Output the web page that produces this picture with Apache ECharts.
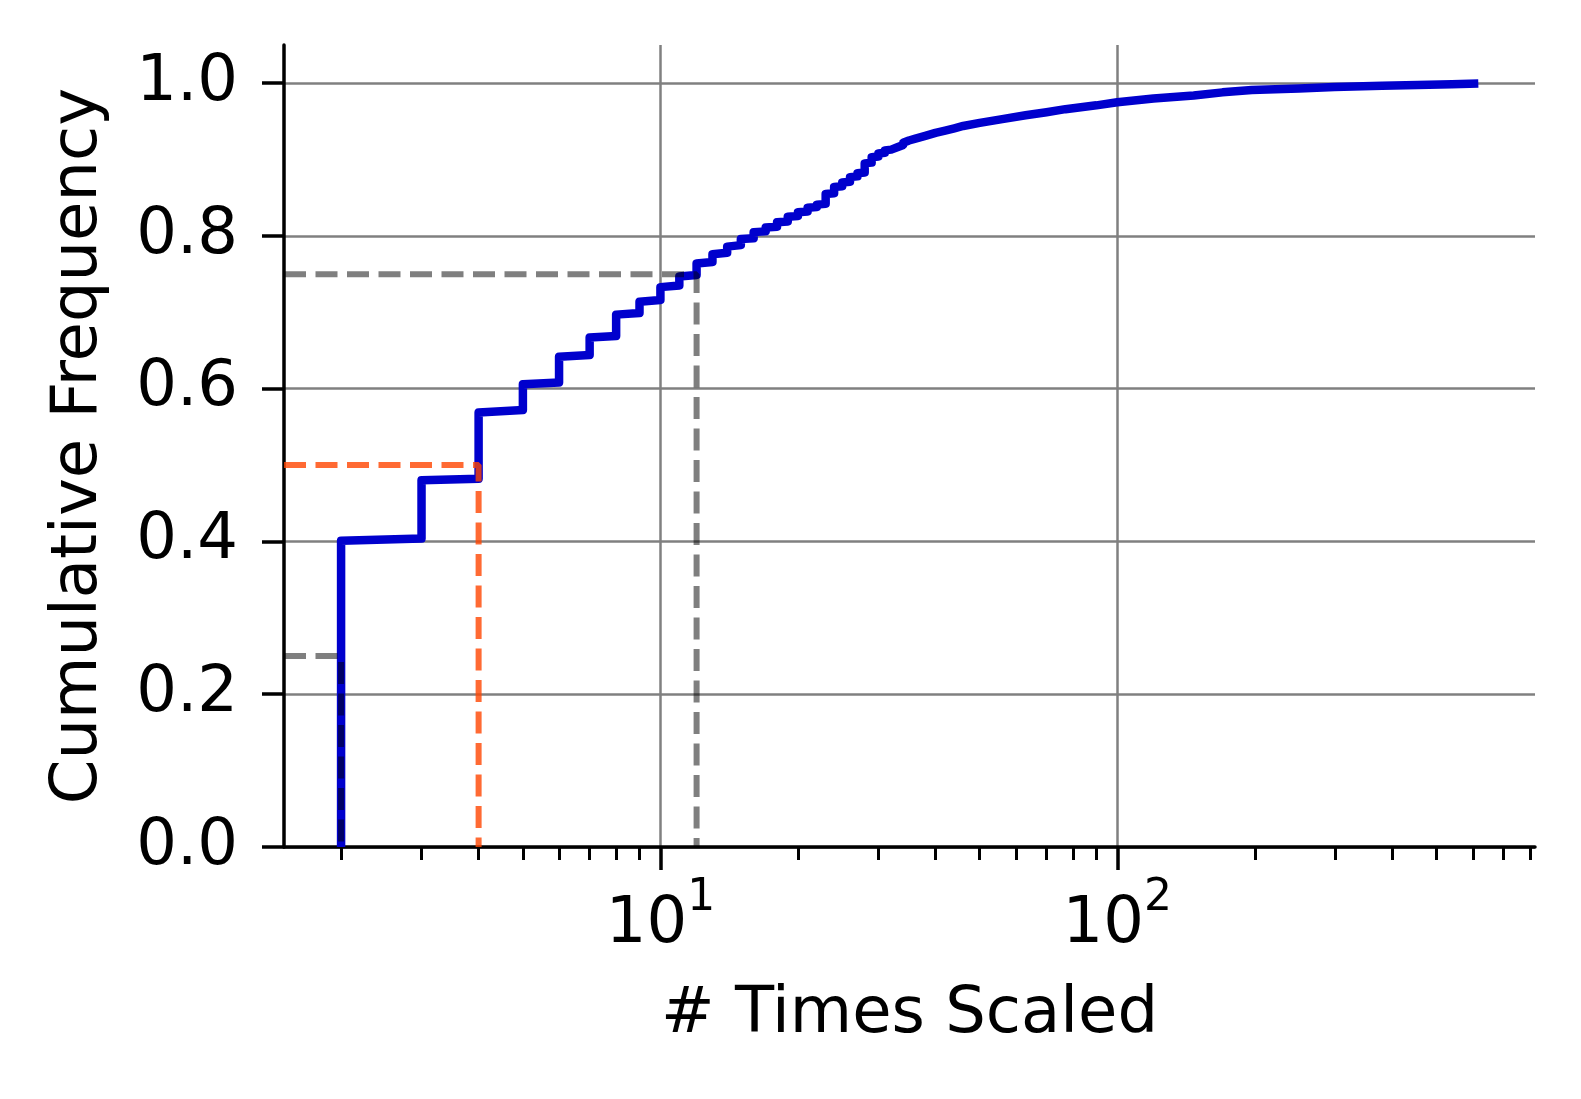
<!DOCTYPE html>
<html><head><meta charset="utf-8">
<script src="https://cdn.jsdelivr.net/npm/echarts@6/dist/echarts.min.js"></script>
<style>html,body{margin:0;padding:0;background:#fff}#c{width:1581px;height:1099px}</style>
</head><body><div id="c"></div>
<script>
// Empirical CDF: # times scaled (x) and cumulative frequency (y); risers at each integer
const timesScaled = [2, 2, 3, 3, 4, 4, 5, 5, 6, 6, 7, 7, 8, 8, 9, 9, 10, 10, 11, 11,
  12, 12, 13, 13, 14, 14, 15, 15, 16, 16, 17, 17, 18, 18, 19, 19, 20, 20, 21, 21,
  22, 22, 23, 23, 24, 24, 25, 25, 26, 26, 27, 27, 28, 28, 29, 29, 30, 30, 31, 31,
  32, 32, 33, 33, 34, 34, 35, 36, 38, 40, 42, 44, 46, 50, 56, 63, 70, 77, 90, 100,
  120, 147, 170, 197, 250, 299, 380, 454, 540, 617];
const cumFreq = [0, 0.401, 0.404, 0.480, 0.482, 0.569, 0.572, 0.606, 0.608, 0.642, 0.644, 0.667, 0.669, 0.697, 0.699, 0.714, 0.716, 0.733, 0.735, 0.747,
  0.749, 0.764, 0.766, 0.776, 0.778, 0.786, 0.788, 0.796, 0.797, 0.805, 0.806, 0.811, 0.812, 0.818, 0.819, 0.825, 0.826, 0.831, 0.832, 0.837,
  0.838, 0.841, 0.842, 0.855, 0.856, 0.864, 0.865, 0.870, 0.871, 0.877, 0.878, 0.882, 0.883, 0.895, 0.896, 0.903, 0.904, 0.908, 0.909, 0.912,
  0.913, 0.915, 0.916, 0.918, 0.919, 0.922, 0.925, 0.927, 0.931, 0.935, 0.938, 0.941, 0.944, 0.948, 0.953, 0.958, 0.962, 0.966, 0.971, 0.975,
  0.980, 0.984, 0.988, 0.991, 0.993, 0.995, 0.9965, 0.9975, 0.9985, 0.9995];
// percentile guides
const percentileLevels = [0.25, 0.5, 0.75];
const percentileValues = [2, 4, 12];
// axes
const xMajorTicks = [10, 100];
const xMinorTicks = [2, 3, 4, 5, 6, 7, 8, 9, 20, 30, 40, 50, 60, 70, 80, 90, 200, 300, 400, 500, 600, 700, 800];
const yTicks = [0, 0.2, 0.4, 0.6, 0.8, 1.0];
const X_MIN = 1.5, X_MAX = 821, Y_MIN = 0, Y_MAX = 1.05;

const FONT = 'DejaVu Sans';
const guideColors = ['rgba(0,0,0,0.5)', 'rgba(255,69,0,0.8)', 'rgba(0,0,0,0.5)'];

const chart = echarts.init(document.getElementById('c'), null, {renderer: 'canvas'});

const series = [{
  type: 'line',
  xAxisIndex: 0,
  data: timesScaled.map((x, i) => [x, cumFreq[i]]),
  showSymbol: false,
  symbol: 'none',
  lineStyle: {color: '#0000CD', width: 8.5, join: 'round', cap: 'butt'},
  z: 3
}];
percentileLevels.forEach((p, i) => {
  series.push({
    type: 'line',
    xAxisIndex: 0,
    data: [[X_MIN, p], [percentileValues[i], p], [percentileValues[i], 0]],
    showSymbol: false,
    symbol: 'none',
    lineStyle: {color: guideColors[i], width: 6, type: [22, 9.5]},
    z: 4
  });
});

chart.setOption({
  animation: false,
  backgroundColor: '#fff',
  grid: {left: 284, right: 46, top: 45, bottom: 252},
  xAxis: [{
    type: 'log', logBase: 10, min: X_MIN, max: X_MAX,
    axisLine: {show: true, lineStyle: {color: '#000', width: 3.5}},
    axisTick: {show: true, customValues: xMajorTicks, length: 23, lineStyle: {color: '#000', width: 3.5}},
    axisLabel: {
      customValues: xMajorTicks, margin: 30, color: '#000',
      formatter: v => '{b|10}{s|' + Math.round(Math.log10(v)) + '}',
      rich: {
        b: {fontSize: 64, fontFamily: FONT, color: '#000', lineHeight: 80, verticalAlign: 'bottom'},
        s: {fontSize: 44, fontFamily: FONT, color: '#000', lineHeight: 44, verticalAlign: 'top'}
      }
    },
    splitLine: {show: true, lineStyle: {color: '#808080', width: 2.5}},
    name: '# Times Scaled', nameLocation: 'middle', nameGap: 136,
    nameTextStyle: {fontSize: 64, fontFamily: FONT, color: '#000'}
  }, {
    type: 'log', logBase: 10, min: X_MIN, max: X_MAX, position: 'bottom',
    axisLine: {show: false},
    axisTick: {show: true, customValues: xMinorTicks, length: 13, lineStyle: {color: '#000', width: 3}},
    axisLabel: {show: false},
    splitLine: {show: false}
  }],
  yAxis: {
    type: 'value', min: Y_MIN, max: Y_MAX,
    axisLine: {show: true, lineStyle: {color: '#000', width: 3.5}},
    axisTick: {show: true, customValues: yTicks, length: 22, lineStyle: {color: '#000', width: 3.5}},
    axisLabel: {customValues: yTicks, margin: 46, fontSize: 64, fontFamily: FONT, color: '#000',
      formatter: v => v.toFixed(1)},
    splitLine: {show: true, lineStyle: {color: '#808080', width: 2.5}},
    name: 'Cumulative Frequency', nameLocation: 'middle', nameGap: 173,
    nameTextStyle: {fontSize: 64, fontFamily: FONT, color: '#000'}
  },
  series: series
});
</script>
</body></html>
